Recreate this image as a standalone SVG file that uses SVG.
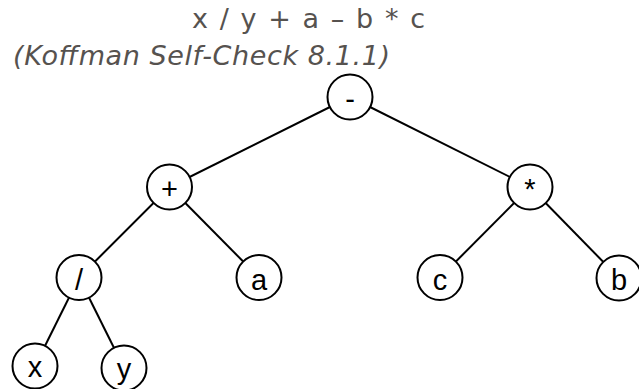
<svg xmlns="http://www.w3.org/2000/svg" width="639" height="389" viewBox="0 0 639 389">
<style>
.t{font-family:"DejaVu Sans","Verdana",sans-serif;font-size:27px;fill:#56524f}
.n circle{fill:#fff;stroke:#000;stroke-width:2}
.n text{font-family:"Liberation Sans",Arial,sans-serif;font-size:29px;fill:#000;text-anchor:middle}
.e line{stroke:#000;stroke-width:2}
</style>
<rect width="639" height="389" fill="#fff"/>
<text class="t" x="192" y="28" textLength="233" lengthAdjust="spacing">x / y + a – b * c</text>
<text class="t" x="13" y="65" font-style="italic" textLength="377" lengthAdjust="spacing">(Koffman Self-Check 8.1.1)</text>
<g id="connectors" class="e">
<line x1="350" y1="97" x2="169.5" y2="187"/>
<line x1="350" y1="97" x2="530" y2="187"/>
<line x1="169.5" y1="187" x2="79" y2="277.5"/>
<line x1="169.5" y1="187" x2="259" y2="277.5"/>
<line x1="530" y1="187" x2="440" y2="277.5"/>
<line x1="530" y1="187" x2="619" y2="278"/>
<line x1="79" y1="277.5" x2="35" y2="366"/>
<line x1="79" y1="277.5" x2="124" y2="368"/>
</g>
<g id="n-minus" class="n"><circle cx="350" cy="97" r="22.5"/><text x="350" y="109">-</text></g>
<g id="n-plus" class="n"><circle cx="169.5" cy="187" r="22.5"/><text x="169.5" y="199">+</text></g>
<g id="n-times" class="n"><circle cx="530" cy="187" r="22.5"/><text x="530" y="199">*</text></g>
<g id="n-div" class="n"><circle cx="79" cy="277.5" r="22.5"/><text x="79" y="289.5">/</text></g>
<g id="n-a" class="n"><circle cx="259" cy="277.5" r="22.5"/><text x="259" y="289.5">a</text></g>
<g id="n-c" class="n"><circle cx="440" cy="277.5" r="22.5"/><text x="440" y="289.5">c</text></g>
<g id="n-b" class="n"><circle cx="619" cy="278" r="22.5"/><text x="619" y="290">b</text></g>
<g id="n-x" class="n"><circle cx="35" cy="366" r="22.5"/><text x="35" y="377">x</text></g>
<g id="n-y" class="n"><circle cx="124" cy="368" r="22.5"/><text x="124" y="379">y</text></g>
</svg>
